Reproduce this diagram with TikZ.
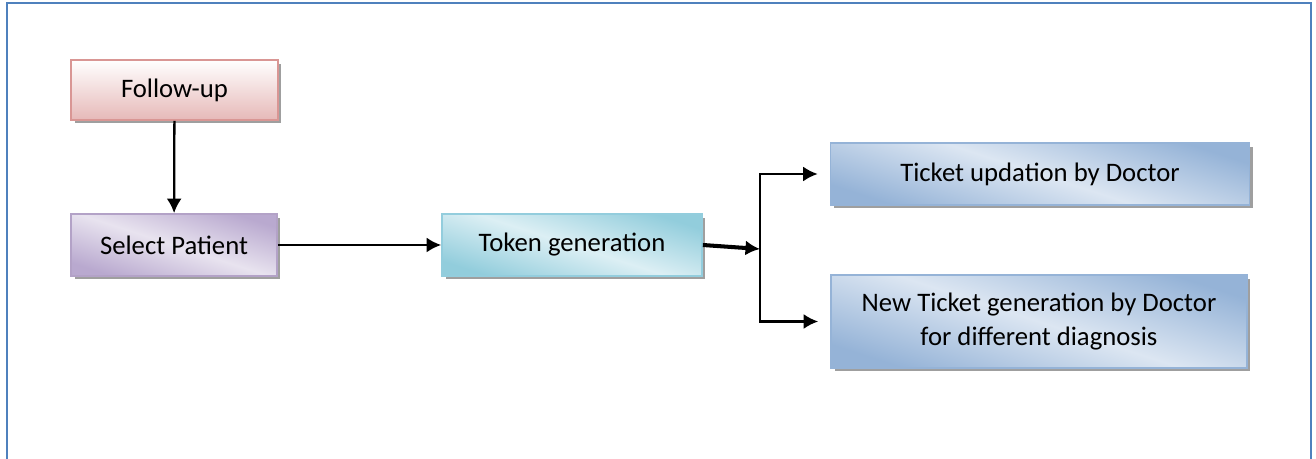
\documentclass[tikz,border=0pt]{standalone}
\usepackage{fontspec}
\setmainfont{Carlito}
\usepackage{tikz}
\usetikzlibrary{arrows, arrows.meta, shadows}
\definecolor{cadre}{HTML}{4F81BD}
\definecolor{roseB}{HTML}{D99694}
\definecolor{roseF}{HTML}{E6B9B8}
\definecolor{violetB}{HTML}{B3A2C7}
\definecolor{violetF}{HTML}{B9A9CF}
\definecolor{violetC}{HTML}{E8E3EF}
\definecolor{cyanB}{HTML}{93CDDD}
\definecolor{cyanF}{HTML}{92CDDC}
\definecolor{cyanC}{HTML}{DCEFF4}
\definecolor{bleuB}{HTML}{95B3D7}
\definecolor{bleuF}{HTML}{95B3D7}
\definecolor{bleuC}{HTML}{DCE6F2}

\begin{document}
\begin{tikzpicture}[x=0.02cm, y=-0.02cm,
    boite/.style={rectangle, draw, line width=1pt, align=center, font=\fontsize{15.2}{19}\selectfont,
        drop shadow={shadow xshift=0.07cm, shadow yshift=-0.07cm, fill=gray!75, opacity=1}},
    reflet/.style={top color=#1, bottom color=#1, shading angle=-18},
    fleche/.style={->, >={Latex[length=0.29cm, width=0.3cm]}, line width=1.3pt}]
    \useasboundingbox (0,0) rectangle (1316,459);

    % Le cadre
    \draw[cadre, line width=1.4pt] (7,459) -- (7,3) -- (1311,3) -- (1311,459);

    % Follow-up
    \node[boite, draw=roseB, top color=white, bottom color=roseF,
        minimum width=4.14cm, minimum height=1.2cm] (suivi) at (174.5,90) {Follow-up};

    % Select Patient
    \node[boite, draw=violetB, reflet=violetF, middle color=violetC,
        minimum width=4.12cm, minimum height=1.24cm] (patient) at (174,245) {Select Patient};

    % Token generation
    \node[boite, draw=cyanB, reflet=cyanF, middle color=cyanC,
        minimum width=5.2cm, minimum height=1.24cm] (jeton) at (572,245) {Token generation};

    % Les deux tickets
    \node[boite, draw=bleuB, reflet=bleuF, middle color=bleuC,
        minimum width=8.38cm, minimum height=1.24cm] (maj) at (1040,174) {Ticket updation by Doctor};
    \node[boite, draw=bleuB, reflet=bleuF, middle color=bleuC,
        minimum width=8.32cm, minimum height=1.86cm] (nouveau) at (1039,321.5)
        {New Ticket generation by Doctor\\for different diagnosis};

    % Les fleches
    \coordinate (branche) at (760,249);
    \draw[fleche] (suivi) -- (patient);
    \draw[fleche] (patient) -- (jeton);
    \draw[fleche, line width=2.3pt] (jeton.east) -- (branche);
    \draw[fleche, shorten >=0.24cm] (branche) |- (maj.west);
    \draw[fleche, shorten >=0.24cm] (branche) |- (nouveau.west);
\end{tikzpicture}
\end{document}
